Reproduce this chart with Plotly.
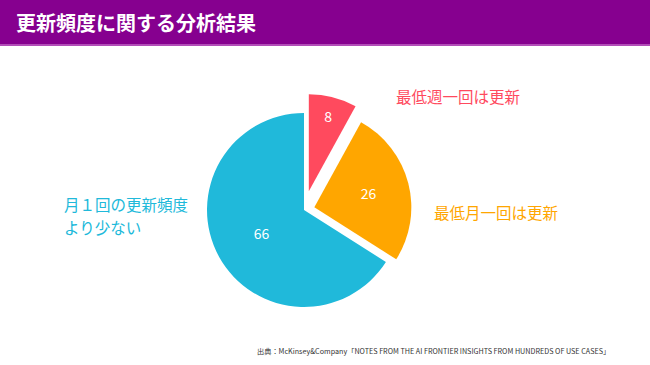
import plotly.graph_objects as go

categories = ["最低週一回は更新", "最低月一回は更新", "月１回の更新頻度<br>より少ない"]
values = [8, 26, 66]
colors = ["#FF4A5E", "#FFA600", "#20B9DA"]
pulls = [0.2, 0.11, 0]
title = "更新頻度に関する分析結果"
source = "出典：McKinsey&Company「NOTES FROM THE AI FRONTIER INSIGHTS FROM HUNDREDS OF USE CASES」"

FONT = "Noto Sans CJK JP"
W, H = 650, 365

fig = go.Figure()
fig.add_trace(go.Pie(
    labels=categories, values=values, sort=False, direction="clockwise", rotation=0,
    pull=pulls, marker=dict(colors=colors, line=dict(width=0)),
    textinfo="value", textposition="inside", insidetextorientation="horizontal",
    textfont=dict(family=FONT, size=14, color="white"),
    domain=dict(x=[0.2886, 0.6468], y=[0.1058, 0.7436]),
    showlegend=False, hoverinfo="label+value",
))

# header bar
fig.add_shape(type="rect", xref="paper", yref="paper", x0=0, x1=1, y0=1 - 44 / H, y1=1,
              fillcolor="#86008F", line=dict(width=0), layer="below")
fig.add_shape(type="rect", xref="paper", yref="paper", x0=0, x1=1, y0=1 - 46 / H, y1=1 - 44 / H,
              fillcolor="#B24DB8", line=dict(width=0), layer="below")
fig.add_annotation(text="<b>" + title + "</b>", xref="paper", yref="paper", x=14 / W, y=1 - 23 / H,
                   xanchor="left", yanchor="middle", showarrow=False,
                   font=dict(family=FONT, size=20, color="white"))

label_pos = [(394, 96), (432, 212), (62, 204)]
for cat, col, (px, py) in zip(categories, colors, label_pos):
    for i, line in enumerate(cat.split("<br>")):
        fig.add_annotation(text=line, xref="paper", yref="paper", x=px / W, y=1 - (py + 23 * i) / H,
                           xanchor="left", yanchor="middle", align="left", showarrow=False,
                           font=dict(family=FONT, size=15.5, color=col))

fig.add_annotation(text=source, xref="paper", yref="paper", x=612 / W, y=1 - 351 / H,
                   xanchor="right", yanchor="middle", showarrow=False,
                   font=dict(family=FONT, size=7.2, color="#333333"))

fig.update_layout(width=W, height=H, margin=dict(l=0, r=0, t=0, b=0),
                  paper_bgcolor="white", plot_bgcolor="white")
fig.write_html("out.html", config={"displayModeBar": False},
               post_script="document.body.style.margin='0';")
